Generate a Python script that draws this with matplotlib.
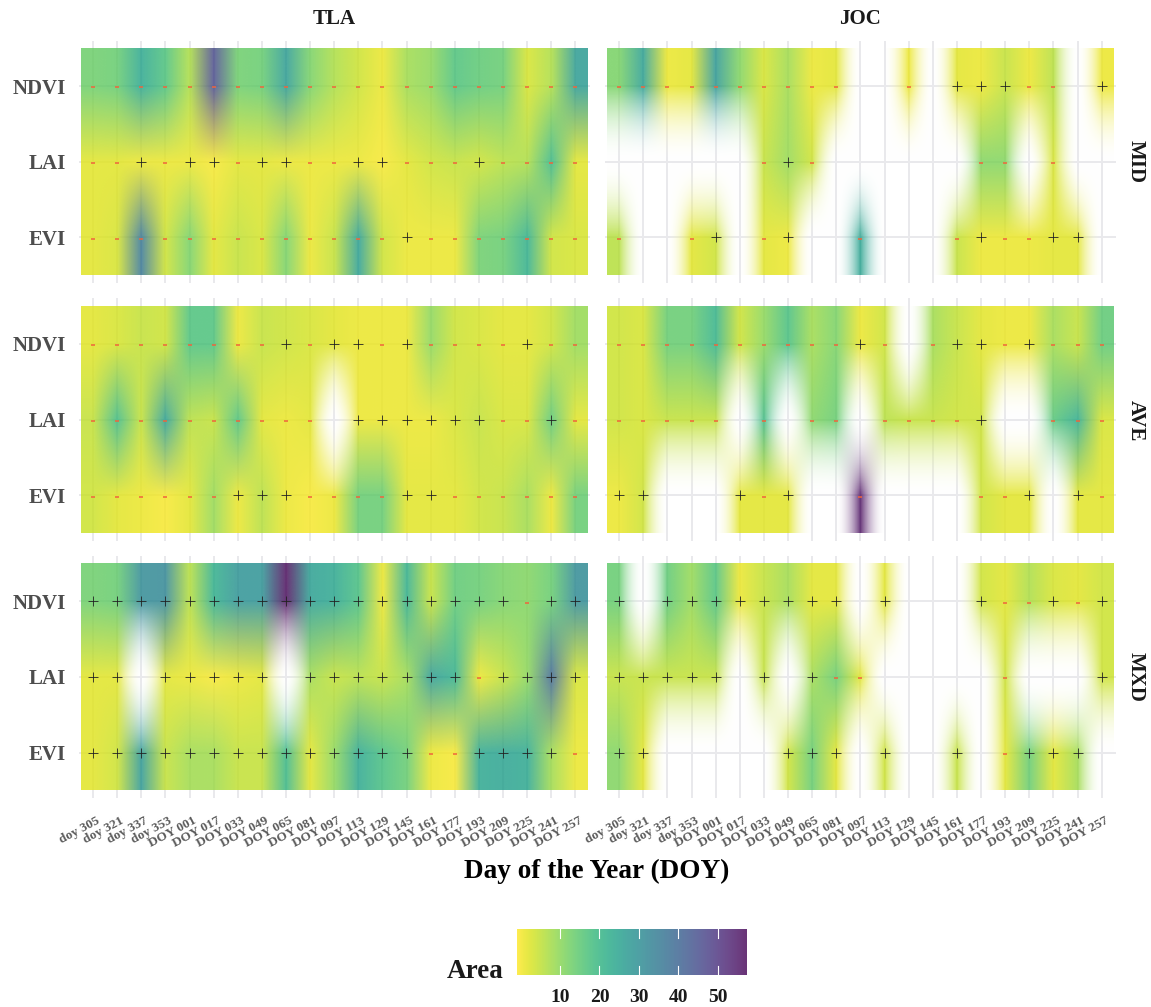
import numpy as np
from matplotlib import pyplot as plt
from matplotlib import cm, colors
from matplotlib.transforms import ScaledTranslation

plt.rcParams['font.family'] = ['Liberation Serif', 'DejaVu Serif']
plt.rcParams['font.weight'] = 'bold'

nan = np.nan

doy_labels = ['doy 305', 'doy 321', 'doy 337', 'doy 353', 'DOY 001', 'DOY 017', 'DOY 033',
              'DOY 049', 'DOY 065', 'DOY 081', 'DOY 097', 'DOY 113', 'DOY 129', 'DOY 145',
              'DOY 161', 'DOY 177', 'DOY 193', 'DOY 209', 'DOY 225', 'DOY 241', 'DOY 257']
indices = ['EVI', 'LAI', 'NDVI']
sites = ['TLA', 'JOC']
zones = ['MID', 'AVE', 'MXD']

# area values, one list per index
tla_mid_ndvi = [13, 14, 24, 17, 7, 46, 13, 14, 27, 12, 7, 4, 1, 8, 10, 17, 15, 14, 3, 7, 27]
tla_mid_lai = [2, 2, 1, 1, 1, 0, 2, 2, 1, 1, 1, 1, 0, 2, 4, 5, 4, 6, 7, 20, 2]
tla_mid_evi = [2, 3, 36, 4, 12, 2, 5, 3, 12, 1, 5, 26, 4, 1, 1, 1, 13, 14, 22, 4, 3]

tla_ave_ndvi = [2, 3, 5, 4, 17, 17, 1, 5, 4, 3, 2, 1, 1, 1, 10, 4, 3, 2, 2, 4, 9]
tla_ave_lai = [5, 19, 5, 26, 6, 5, 17, 2, 1, 2, nan, 1, 1, 1, 1, 3, 5, 3, 3, 15, 2]
tla_ave_evi = [4, 2, 1, 0, 2, 9, 1, 6, 1, 0, 1, 14, 14, 2, 2, 2, 4, 5, 8, 1, 14]

tla_mxd_ndvi = [13, 14, 31, 32, 6, 22, 29, 29, 57, 26, 24, 18, 1, 22, 5, 15, 14, 12, 11, 14, 31]
tla_mxd_lai = [2, 2, nan, 2, 1, 0, 1, 2, nan, 8, 5, 6, 5, 8, 27, 22, 1, 5, 10, 40, 3]
tla_mxd_evi = [2, 4, 28, 5, 8, 8, 5, 5, 20, 2, 10, 24, 18, 14, 1, 0, 24, 25, 24, 8, 1]

joc_mid_ndvi = [12, 26, 1, 2, 28, 11, 3, 8, 1, 2, nan, nan, 1, nan, 2, 1, 5, 1, 6, nan, 1]
joc_mid_lai = [nan, nan, nan, nan, nan, nan, 5, 9, 4, nan, nan, nan, nan, nan, nan, 11, 11, nan, 3, nan, nan]
joc_mid_evi = [6, nan, nan, 2, 4, nan, 2, 1, nan, nan, 25, nan, nan, nan, 5, 1, 1, 1, 2, 2, nan]

joc_ave_ndvi = [4, 3, 14, 14, 21, 4, 10, 18, 8, 12, 1, 4, nan, 8, 5, 2, 1, 1, 8, 5, 15]
joc_ave_lai = [4, 3, 5, 5, 5, nan, 19, nan, 11, 14, nan, 6, 5, 5, 4, 4, nan, nan, 16, 23, 3]
joc_ave_evi = [1, 4, nan, nan, nan, 2, 2, 2, nan, nan, 56, nan, nan, nan, nan, 4, 2, 2, nan, 2, 2]

joc_mxd_ndvi = [14, nan, 15, 9, 17, 1, 5, 8, 2, 2, nan, 2, nan, nan, nan, 4, 2, 7, 3, 2, 4]
joc_mxd_lai = [5, 5, 5, 5, 5, nan, 5, nan, 8, 14, 2, nan, nan, nan, nan, nan, 4, nan, nan, nan, 4]
joc_mxd_evi = [11, 2, nan, nan, nan, nan, nan, 4, 14, 2, nan, 4, nan, nan, 5, nan, 2, 14, 2, 8, nan]

# sign of each cell per index, '.' where there is no value
tla_mid_sign_evi = '-------------+-------'
tla_mid_sign_lai = '--+-++-++--++---+----'
tla_mid_sign_ndvi = '---------------------'
tla_ave_sign_evi = '------+++----++------'
tla_ave_sign_lai = '----------.++++++--+-'
tla_ave_sign_ndvi = '--------+-++-+----+--'
tla_mxd_sign_evi = '++++++++++++++--++++-'
tla_mxd_sign_lai = '++.+++++.+++++++-++++'
tla_mxd_sign_ndvi = '++++++++++++++++++-++'
joc_mid_sign_evi = '-..-+.-+..-...-+--++.'
joc_mid_sign_lai = '......-+-......--.-..'
joc_mid_sign_ndvi = '----------..-.+++--.+'
joc_ave_sign_evi = '++...+-+..-....--+.+-'
joc_ave_sign_lai = '-----.-.--.----+..---'
joc_ave_sign_ndvi = '----------+-.-++-+---'
joc_mxd_sign_evi = '++.....+++.+..+.-+++.'
joc_mxd_sign_lai = '+++++.+.+--.....-...+'
joc_mxd_sign_ndvi = '+.++++++++.+...+--+-+'

values = {
    ('TLA', 'MID'): [tla_mid_evi, tla_mid_lai, tla_mid_ndvi],
    ('TLA', 'AVE'): [tla_ave_evi, tla_ave_lai, tla_ave_ndvi],
    ('TLA', 'MXD'): [tla_mxd_evi, tla_mxd_lai, tla_mxd_ndvi],
    ('JOC', 'MID'): [joc_mid_evi, joc_mid_lai, joc_mid_ndvi],
    ('JOC', 'AVE'): [joc_ave_evi, joc_ave_lai, joc_ave_ndvi],
    ('JOC', 'MXD'): [joc_mxd_evi, joc_mxd_lai, joc_mxd_ndvi],
}
signs = {
    ('TLA', 'MID'): [tla_mid_sign_evi, tla_mid_sign_lai, tla_mid_sign_ndvi],
    ('TLA', 'AVE'): [tla_ave_sign_evi, tla_ave_sign_lai, tla_ave_sign_ndvi],
    ('TLA', 'MXD'): [tla_mxd_sign_evi, tla_mxd_sign_lai, tla_mxd_sign_ndvi],
    ('JOC', 'MID'): [joc_mid_sign_evi, joc_mid_sign_lai, joc_mid_sign_ndvi],
    ('JOC', 'AVE'): [joc_ave_sign_evi, joc_ave_sign_lai, joc_ave_sign_ndvi],
    ('JOC', 'MXD'): [joc_mxd_sign_evi, joc_mxd_sign_lai, joc_mxd_sign_ndvi],
}

W, H = 1151, 1007
fig = plt.figure(figsize=(W / 100, H / 100), dpi=100, facecolor='white')

norm = colors.Normalize(vmin=-0.9, vmax=57.4)
mapper = cm.ScalarMappable(norm=norm, cmap='viridis_r')
ALPHA = 0.8
GRID = '#e9e9ec'

col_left = {'TLA': 81.0, 'JOC': 607.2}
row_top = {'MID': 48.3, 'AVE': 306.0, 'MXD': 563.5}
raster_w, raster_h = 506.5, 227.0


def add_axes_px(left, top, width, height):
    return fig.add_axes([left / W, 1 - (top + height) / H, width / W, height / H])


def draw_panel(site, zone):
    cell_w = raster_w / 21
    cell_h = raster_h / 3
    pad_x = 0.1 * cell_w
    pad_y = 0.1 * cell_h
    ax = add_axes_px(col_left[site] - pad_x, row_top[zone] - pad_y,
                     raster_w + 2 * pad_x, raster_h + 2 * pad_y)

    data = np.array(values[(site, zone)], dtype=float)
    rgba = mapper.to_rgba(np.nan_to_num(data))
    rgba[..., 3] = ALPHA
    rgba[np.isnan(data)] = (1, 1, 1, 0)
    ax.imshow(rgba, origin='lower', extent=(-0.5, 20.5, -0.5, 2.5), aspect='auto',
              interpolation='bilinear', zorder=2)

    ax.set_xlim(-0.6, 20.6)
    ax.set_ylim(-0.6, 2.6)
    ax.grid(True, color=GRID, lw=1.4, zorder=1)
    ax.set_axisbelow(True)
    for s in ax.spines.values():
        s.set_visible(False)
    ax.tick_params(length=0)
    ax.set_xticks(range(21))
    ax.set_yticks(range(3))

    if site == 'TLA':
        ax.set_yticklabels(indices, fontsize=15, color='#4d4d4d')
        ax.tick_params(axis='y', pad=9)
    else:
        ax.set_yticklabels([])

    if zone == 'MXD':
        ax.set_xticklabels(doy_labels, fontsize=9.5, color='#5a5a5a', rotation=28,
                           ha='right', va='top', rotation_mode='anchor')
        ax.tick_params(axis='x', pad=12)
        shift = ScaledTranslation(3 / 100, 0, fig.dpi_scale_trans)
        for lbl in ax.get_xticklabels():
            lbl.set_transform(lbl.get_transform() + shift)
    else:
        ax.set_xticklabels([])

    for i, row in enumerate(signs[(site, zone)]):
        plus_x = [j for j, c in enumerate(row) if c == '+']
        minus_x = [j for j, c in enumerate(row) if c == '-']
        ax.plot(plus_x, [i] * len(plus_x), ls='none', marker='+', ms=6.5, mew=0.6,
                color='#222222', zorder=3)
        ax.plot(minus_x, [i - 0.018] * len(minus_x), ls='none', marker='_', ms=3.5, mew=1.1,
                color='#f0643c', zorder=3)
    return ax


for site in sites:
    for zone in zones:
        draw_panel(site, zone)


def text_px(x, y, s, **kw):
    fig.text(x / W, 1 - y / H, s, ha=kw.pop('ha', 'center'), va=kw.pop('va', 'center'), **kw)


text_px(334, 19, 'TLA', fontsize=15, color='#1a1a1a')
text_px(860, 19, 'JOC', fontsize=15, color='#1a1a1a')
for zone, y in zip(zones, [162, 421, 677]):
    text_px(1136, y, zone, fontsize=15, rotation=-90, color='#1a1a1a')
text_px(597, 871, 'Day of the Year (DOY)', fontsize=19.6, color='black')
text_px(475, 971, 'Area', fontsize=19.5, color='#1a1a1a')

# legend colour bar
cax = add_axes_px(517, 929, 230, 46)
gradient = np.linspace(norm.vmin, norm.vmax, 256)[None, :]
cax.imshow(gradient, cmap='viridis_r', norm=norm, alpha=ALPHA, aspect='auto',
           extent=(norm.vmin, norm.vmax, 0, 1))
cax.set_xlim(norm.vmin, norm.vmax)
cax.set_ylim(0, 1)
cax.set_yticks([])
cax.set_xticks([])
for s in cax.spines.values():
    s.set_visible(False)
for t in [10, 20, 30, 40, 50]:
    cax.plot([t, t], [0, 0.2], color='white', lw=0.8)
    cax.plot([t, t], [0.8, 1], color='white', lw=0.8)
    cax.text(t, -0.3, str(t), ha='center', va='top', fontsize=14, color='#1a1a1a')

fig.savefig('out.png', dpi=100)
